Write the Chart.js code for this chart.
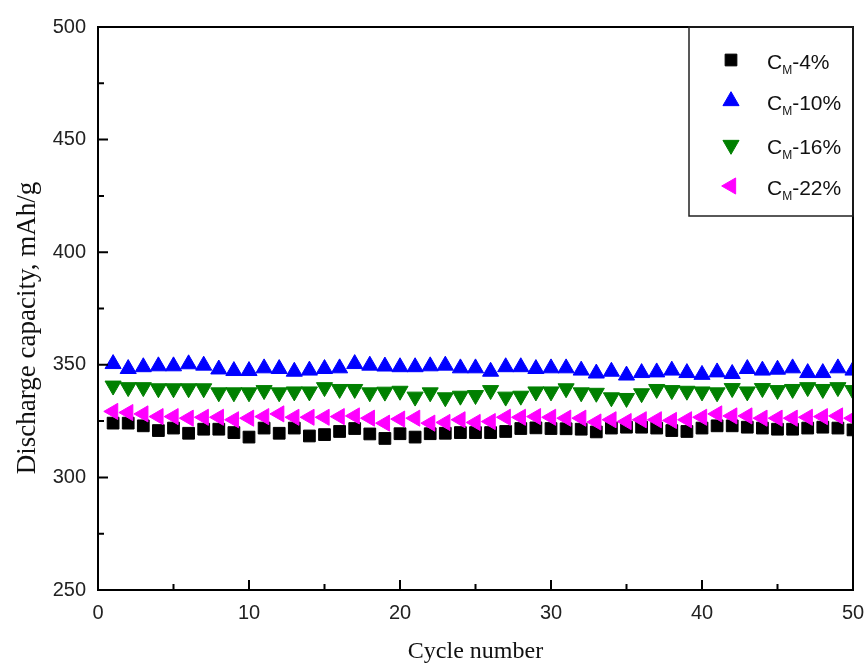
<!DOCTYPE html>
<html>
<head>
<meta charset="utf-8">
<script src="https://cdn.jsdelivr.net/npm/chart.js@4.4.1/dist/chart.umd.min.js"></script>
<style>
  html, body { margin: 0; padding: 0; background: #fff; }
  #wrap { width: 866px; height: 666px; position: relative; }
</style>
</head>
<body>
<div id="wrap"><canvas id="capChart"></canvas></div>
<script>
// Cycle numbers (x) and discharge capacity (mAh/g)
const cycles = [1, 2, 3, 4, 5, 6, 7, 8, 9, 10, 11, 12, 13, 14, 15, 16, 17, 18, 19, 20,
    21, 22, 23, 24, 25, 26, 27, 28, 29, 30, 31, 32, 33, 34, 35, 36, 37, 38, 39, 40,
    41, 42, 43, 44, 45, 46, 47, 48, 49, 50];

const cap4 = [324.1, 324.1, 322.9, 320.8, 321.9, 319.6, 321.4, 321.4, 319.9, 317.9,
    321.9, 319.6, 321.9, 318.4, 319.0, 320.4, 321.7, 319.3, 317.3, 319.4,
    317.9, 319.4, 319.6, 319.9, 319.9, 319.9, 320.4, 321.7, 322.0, 321.7,
    321.6, 321.4, 320.2, 321.9, 322.3, 322.3, 321.9, 320.8, 320.4, 321.9,
    322.9, 322.9, 322.3, 321.9, 321.4, 321.4, 321.9, 322.3, 321.9, 321.1];

const cap10 = [350.4, 348.2, 349.0, 349.4, 349.4, 350.3, 349.7, 348.0, 347.3, 347.3,
    348.5, 348.2, 347.0, 347.5, 348.2, 348.5, 350.4, 349.7, 349.3, 349.0,
    349.0, 349.4, 349.7, 348.5, 348.5, 347.0, 349.0, 349.0, 348.2, 348.5,
    348.5, 347.5, 346.2, 347.0, 345.3, 346.4, 346.7, 347.5, 346.4, 345.6,
    346.7, 346.0, 348.2, 347.5, 347.9, 348.5, 346.4, 346.4, 348.5, 347.5];

const cap16 = [340.7, 340.0, 340.0, 339.5, 339.5, 339.5, 339.5, 337.7, 337.7, 337.7,
    338.7, 337.7, 338.1, 338.1, 340.0, 339.2, 339.2, 337.7, 338.0, 338.4,
    335.8, 337.7, 335.5, 336.2, 336.5, 338.7, 335.8, 336.2, 338.1, 338.1,
    339.5, 337.7, 337.5, 335.5, 335.2, 337.3, 339.2, 338.7, 338.4, 338.1,
    337.7, 339.6, 338.1, 339.6, 338.7, 339.2, 340.0, 339.2, 340.0, 338.7];

const cap22 = [329.3, 328.8, 328.2, 327.0, 327.0, 326.3, 326.7, 326.7, 325.6, 326.3,
    327.0, 328.2, 326.7, 326.7, 326.7, 327.0, 327.3, 326.3, 324.1, 325.9,
    326.3, 324.1, 324.4, 325.6, 324.4, 324.8, 326.7, 326.7, 327.0, 326.7,
    326.3, 326.3, 324.6, 325.6, 324.8, 325.6, 325.6, 325.3, 325.6, 326.7,
    328.2, 327.3, 327.3, 326.3, 326.3, 326.3, 326.7, 327.0, 327.3, 326.3];

const seriesLabels = ['C_M-4%', 'C_M-10%', 'C_M-16%', 'C_M-22%'];

// Axis ticks
const xTicks = [0, 10, 20, 30, 40, 50];
const xMinorTicks = [5, 15, 25, 35, 45];
const yTicks = [250, 300, 350, 400, 450, 500];
const yMinorTicks = [275, 325, 375, 425, 475];

const xTitle = 'Cycle number';
const yTitle = 'Discharge capacity, mAh/g';

const SANS = '"Liberation Sans", Arial, sans-serif';
const SERIF = '"Liberation Serif", "Times New Roman", serif';

const toPoints = (vals) => cycles.map((c, i) => ({ x: c, y: vals[i] }));

function makeSet(label, vals, color, style, rotation, order) {
    return {
        label: label,
        data: toPoints(vals),
        showLine: false,
        pointStyle: style,
        rotation: rotation,
        pointRadius: style === 'rect' ? 8.3 : 9.3,
        pointBorderWidth: 1,
        pointBackgroundColor: color,
        pointBorderColor: color,
        order: order
    };
}

// Simple marker drawing for the legend (same geometry as Chart.js points)
function drawMarker(ctx, style, rotation, x, y, r, color) {
    ctx.save();
    ctx.fillStyle = color;
    ctx.strokeStyle = color;
    ctx.lineWidth = 1;
    ctx.beginPath();
    if (style === 'rect') {
        const s = Math.SQRT1_2 * r;
        ctx.rect(x - s, y - s, 2 * s, 2 * s);
    } else {
        let rad = rotation * Math.PI / 180;
        ctx.moveTo(x + Math.sin(rad) * r, y - Math.cos(rad) * r);
        rad += 2 * Math.PI / 3;
        ctx.lineTo(x + Math.sin(rad) * r, y - Math.cos(rad) * r);
        rad += 2 * Math.PI / 3;
        ctx.lineTo(x + Math.sin(rad) * r, y - Math.cos(rad) * r);
        ctx.closePath();
    }
    ctx.fill();
    ctx.stroke();
    ctx.restore();
}

const framePlugin = {
    id: 'frame',
    afterDraw(chart) {
        const { ctx, chartArea: a, scales: { x, y } } = chart;
        ctx.save();
        ctx.strokeStyle = '#000';
        ctx.lineWidth = 2;
        ctx.strokeRect(a.left, a.top, a.right - a.left, a.bottom - a.top);

        // inward ticks
        ctx.beginPath();
        xTicks.forEach(v => { const p = x.getPixelForValue(v); ctx.moveTo(p, a.bottom); ctx.lineTo(p, a.bottom - 10); });
        xMinorTicks.forEach(v => { const p = x.getPixelForValue(v); ctx.moveTo(p, a.bottom); ctx.lineTo(p, a.bottom - 6); });
        yTicks.forEach(v => { const p = y.getPixelForValue(v); ctx.moveTo(a.left, p); ctx.lineTo(a.left + 10, p); });
        yMinorTicks.forEach(v => { const p = y.getPixelForValue(v); ctx.moveTo(a.left, p); ctx.lineTo(a.left + 6, p); });
        ctx.stroke();

        // axis titles
        ctx.fillStyle = '#111';
        ctx.font = '24px ' + SERIF;
        ctx.textAlign = 'center';
        ctx.textBaseline = 'alphabetic';
        ctx.fillText(xTitle, (a.left + a.right) / 2, 658);

        ctx.save();
        ctx.translate(a.left - 63, 328);
        ctx.rotate(-Math.PI / 2);
        ctx.font = '27px ' + SERIF;
        ctx.textBaseline = 'alphabetic';
        ctx.fillText(yTitle, 0, 0);
        ctx.restore();

        // legend box
        const boxL = a.right - 164, boxT = a.top, boxB = a.top + 189;
        ctx.lineWidth = 1.5;
        ctx.strokeStyle = '#222';
        ctx.strokeRect(boxL, boxT, a.right - boxL, boxB - boxT);

        const rowY = [33, 74, 118, 159];
        chart.data.datasets.forEach((ds, i) => {
            const cy = boxT + rowY[i];
            drawMarker(ctx, ds.pointStyle, ds.rotation, a.right - 122, cy, ds.pointRadius, ds.pointBackgroundColor);
            const m = /^(.)_(.)(.*)$/.exec(ds.label);
            let tx = a.right - 86;
            ctx.fillStyle = '#111';
            ctx.textAlign = 'left';
            ctx.textBaseline = 'alphabetic';
            ctx.font = '21px ' + SANS;
            ctx.fillText(m[1], tx, cy + 9);
            tx += ctx.measureText(m[1]).width;
            ctx.font = '12px ' + SANS;
            ctx.fillText(m[2], tx, cy + 14);
            tx += ctx.measureText(m[2]).width;
            ctx.font = '21px ' + SANS;
            ctx.fillText(m[3], tx, cy + 9);
        });
        ctx.restore();
    }
};

new Chart(document.getElementById('capChart'), {
    type: 'scatter',
    data: {
        datasets: [
            makeSet(seriesLabels[0], cap4, '#000000', 'rect', 0, 4),
            makeSet(seriesLabels[1], cap10, '#0000ff', 'triangle', 0, 3),
            makeSet(seriesLabels[2], cap16, '#008000', 'triangle', 180, 2),
            makeSet(seriesLabels[3], cap22, '#ff00ff', 'triangle', 270, 1)
        ]
    },
    options: {
        responsive: true,
        maintainAspectRatio: false,
        animation: false,
        layout: { padding: { left: 0, top: 27, right: 13, bottom: 0 } },
        plugins: {
            legend: { display: false },
            tooltip: { enabled: false }
        },
        scales: {
            x: {
                type: 'linear',
                min: 0,
                max: 50,
                afterBuildTicks: (s) => { s.ticks = xTicks.map(v => ({ value: v })); },
                afterFit: (s) => { s.height = 76; s.paddingLeft = 0; s.paddingRight = 0; },
                grid: { display: false, drawTicks: false },
                border: { display: false },
                ticks: { color: '#222', font: { family: SANS, size: 20 }, padding: 11, autoSkip: false, maxRotation: 0 }
            },
            y: {
                min: 250,
                max: 500,
                afterBuildTicks: (s) => { s.ticks = yTicks.map(v => ({ value: v })); },
                afterFit: (s) => { s.width = 98; },
                grid: { display: false, drawTicks: false },
                border: { display: false },
                ticks: { color: '#222', font: { family: SANS, size: 20 }, padding: 12 }
            }
        }
    },
    plugins: [framePlugin]
});
</script>
</body>
</html>
